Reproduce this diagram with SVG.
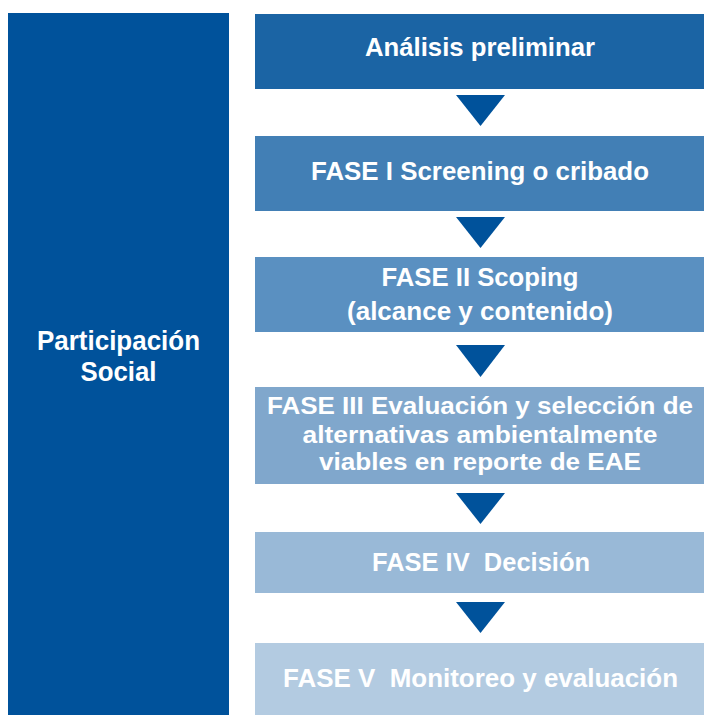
<svg xmlns="http://www.w3.org/2000/svg" width="704" height="715" viewBox="0 0 704 715">
<style>
text{font-family:"Liberation Sans",Arial,sans-serif;font-weight:bold;fill:#fff;font-size:26px;text-anchor:middle}
.big{font-size:28px}
.sm{font-size:24px}
.tri{fill:#00529B}
</style>
<rect width="704" height="715" fill="#fff"/>
<g id="participacion">
<rect x="8" y="13" width="221" height="702" fill="#00529B"/>
<text class="big" x="118.5" y="350" textLength="163" lengthAdjust="spacingAndGlyphs">Participación</text>
<text class="big" x="118.5" y="381" textLength="76" lengthAdjust="spacingAndGlyphs">Social</text>
</g>
<g id="analisis">
<rect x="255" y="14" width="449" height="75" fill="#1B64A4"/>
<text x="480" y="56" textLength="230" lengthAdjust="spacingAndGlyphs">Análisis preliminar</text>
</g>
<g id="fase1">
<rect x="255" y="136" width="449" height="75" fill="#427FB5"/>
<text x="480" y="180" textLength="338" lengthAdjust="spacingAndGlyphs">FASE I Screening o cribado</text>
</g>
<g id="fase2">
<rect x="255" y="257" width="449" height="75" fill="#5A90C1"/>
<text x="480" y="286" textLength="197" lengthAdjust="spacingAndGlyphs">FASE II Scoping</text>
<text x="480" y="320" textLength="266" lengthAdjust="spacingAndGlyphs">(alcance y contenido)</text>
</g>
<g id="fase3">
<rect x="255" y="387" width="449" height="97" fill="#80A7CC"/>
<text class="sm" x="480" y="414" textLength="426" lengthAdjust="spacingAndGlyphs">FASE III Evaluación y selección de</text>
<text class="sm" x="480" y="443" textLength="355" lengthAdjust="spacingAndGlyphs">alternativas ambientalmente</text>
<text class="sm" x="480" y="470" textLength="322" lengthAdjust="spacingAndGlyphs">viables en reporte de EAE</text>
</g>
<g id="fase4">
<rect x="255" y="532" width="449" height="61" fill="#99B9D7"/>
<text x="481" y="571" textLength="218" lengthAdjust="spacingAndGlyphs" xml:space="preserve">FASE IV  Decisión</text>
</g>
<g id="fase5">
<rect x="255" y="643" width="449" height="72" fill="#B3CBE1"/>
<text x="480.5" y="687" textLength="395" lengthAdjust="spacingAndGlyphs" xml:space="preserve">FASE V  Monitoreo y evaluación</text>
</g>
<g id="connectors">
<polygon class="tri" points="456,95 505,95 480.5,126"/>
<polygon class="tri" points="456,217 505,217 480.5,248"/>
<polygon class="tri" points="456,345 505,345 480.5,377"/>
<polygon class="tri" points="456,493 505,493 480.5,524"/>
<polygon class="tri" points="456,602 505,602 480.5,633"/>
</g>
</svg>
